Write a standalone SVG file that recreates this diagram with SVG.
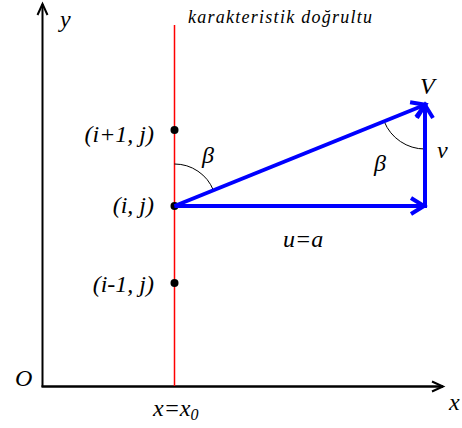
<svg xmlns="http://www.w3.org/2000/svg" width="462" height="428" viewBox="0 0 462 428">
<style>
text{font-family:"Liberation Serif","Times New Roman",serif;font-style:italic;font-size:24px;fill:#000}
.ax{stroke:#000;fill:none}
.bl{stroke:#0000ff;stroke-width:4;fill:none}
.arc{stroke:#000;stroke-width:1;fill:none}
</style>
<defs>
<marker id="ba" markerUnits="userSpaceOnUse" viewBox="-20 -12 24 24" markerWidth="24" markerHeight="24" refX="0" refY="0" orient="auto" overflow="visible">
<path d="M-15,-8 L-2,0 L-15,8" fill="none" stroke="#0000ff" stroke-width="4"/>
</marker>
<marker id="ka" markerUnits="userSpaceOnUse" viewBox="-14 -8 16 16" markerWidth="16" markerHeight="16" refX="0" refY="0" orient="auto" overflow="visible">
<path d="M-11,-5 L0,0 L-11,5" fill="none" stroke="#000" stroke-width="2"/>
</marker>
</defs>
<g id="axes">
<line class="ax" x1="42.5" y1="387" x2="42.5" y2="4" stroke-width="2" marker-end="url(#ka)"/>
<line class="ax" x1="41.5" y1="386.5" x2="443" y2="386.5" stroke-width="2.5" marker-end="url(#ka)"/>
<text x="60" y="27">y</text>
<text x="15" y="386">O</text>
<text x="449" y="410">x</text>
</g>
<g id="characteristic">
<line x1="174.5" y1="25" x2="174.5" y2="386" stroke="#ff0000" stroke-width="1.5"/>
<text x="188" y="23" textLength="184" lengthAdjust="spacing" style="font-size:18px">karakteristik doğrultu</text>
<text x="153" y="416">x=x<tspan dy="4" style="font-size:16px">0</tspan></text>
</g>
<g id="node-i1j">
<circle cx="174.5" cy="130" r="4"/>
<text x="154" y="142" text-anchor="end">(i+1, j)</text>
</g>
<g id="node-ij">
<circle cx="174.5" cy="206" r="4"/>
<text x="154" y="213" text-anchor="end">(i, j)</text>
</g>
<g id="node-im1j">
<circle cx="174.5" cy="283" r="4"/>
<text x="154" y="292" text-anchor="end">(i-1, j)</text>
</g>
<g id="connectors">
<path class="arc" d="M174.5,164 A42,42 0 0 1 213.4,190.3"/>
<path class="arc" d="M384.2,121.5 A44,44 0 0 0 425,149"/>
<line class="bl" x1="174.5" y1="206" x2="426" y2="206" marker-end="url(#ba)"/>
<line class="bl" x1="174.5" y1="206" x2="427" y2="104" marker-end="url(#ba)"/>
<line class="bl" x1="425" y1="208" x2="425" y2="103" marker-end="url(#ba)"/>
</g>
<g id="labels">
<text x="420" y="94">V</text>
<text x="202" y="163">β</text>
<text x="374" y="171">β</text>
<text x="437" y="158">v</text>
<text x="283" y="247">u=a</text>
</g>
</svg>
